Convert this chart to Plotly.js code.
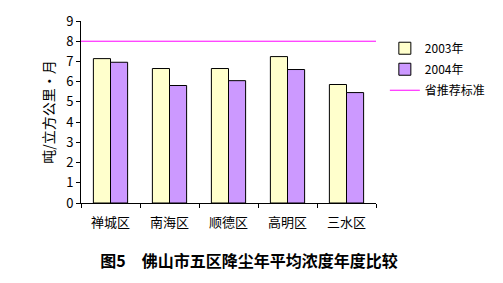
<!DOCTYPE html>
<html><head><meta charset="utf-8">
<script src="https://cdn.plot.ly/plotly-3.0.1.min.js"></script>
<style>html,body{margin:0;padding:0;background:#fff;}#chart{width:503px;height:283px;}</style>
</head><body><div id="chart"></div>
<script>
const categories = ["禅城区", "南海区", "顺德区", "高明区", "三水区"];
const values2003 = [7.14, 6.65, 6.65, 7.24, 5.86];
const values2004 = [6.96, 5.81, 6.05, 6.60, 5.46];
const standardX = [0, 1];
const standardY = [8, 8];
const seriesNames = ["2003年", "2004年", "省推荐标准"];

const font = "'Noto Sans CJK SC', 'DejaVu Sans', sans-serif";
const traces = [
  {type: "bar", name: seriesNames[0], x: categories, y: values2003, legendgroup: "a",
   marker: {color: "#FFFFCC", line: {color: "#000", width: 1}}},
  {type: "bar", name: seriesNames[1], x: categories, y: values2004, legendgroup: "b",
   marker: {color: "#CC99FF", line: {color: "#000", width: 1}}},
  {type: "scatter", mode: "lines", name: seriesNames[2], x: standardX, y: standardY, legendgroup: "c",
   xaxis: "x2", line: {color: "#FF00FF", width: 1}}
];
const layout = {
  width: 503, height: 283,
  margin: {l: 81, r: 102, t: 21, b: 80},
  paper_bgcolor: "#fff", plot_bgcolor: "#fff",
  font: {family: font, size: 12, color: "#000"},
  barmode: "group", bargap: 0.42, bargroupgap: 0,
  showlegend: true,
  legend: {x: 1.03, xanchor: "left", y: 0.93, yanchor: "top", font: {size: 12},
           traceorder: "grouped", tracegroupgap: 2, itemwidth: 30, bgcolor: "rgba(0,0,0,0)"},
  title: {text: "<b>图5　佛山市五区降尘年平均浓度年度比较</b>", font: {size: 16, family: font},
          x: 0.495, xanchor: "center", y: 0.078, yanchor: "middle"},
  xaxis: {type: "category", showline: true, linecolor: "#000", linewidth: 1,
          ticks: "outside", ticklen: 4, tickcolor: "#000", tickson: "boundaries",
          ticklabelstandoff: 7,
          showgrid: false, zeroline: false, tickfont: {size: 13}},
  xaxis2: {overlaying: "x", range: [0, 1], visible: false, showgrid: false, zeroline: false},
  yaxis: {range: [0, 9], dtick: 1, showline: true, linecolor: "#000", linewidth: 1,
          ticks: "outside", ticklen: 4, tickcolor: "#000", showgrid: false, zeroline: false,
          tickfont: {size: 13},
          title: {text: "吨/立方公里·月", font: {size: 14}, standoff: 8}}
};
Plotly.newPlot("chart", traces, layout, {displayModeBar: false, staticPlot: true});
</script></body></html>
